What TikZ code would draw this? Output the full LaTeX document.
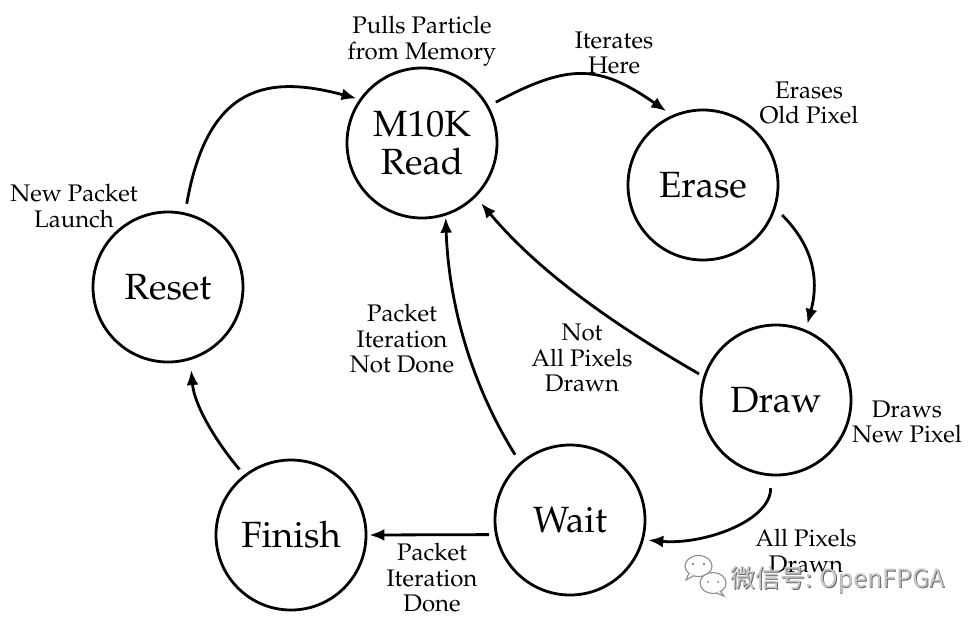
\documentclass[tikz,border=0pt]{standalone}
\usepackage[T1]{fontenc}
\usepackage{fontspec}
\newfontfamily\cjkfont{Noto Sans CJK SC}
\usetikzlibrary{arrows.meta}
\newcommand\palfont{\fontencoding{T1}\fontfamily{ppl}\selectfont}
\begin{document}
\begin{tikzpicture}[x=1pt,y=1pt,
  state/.style={circle,draw,line width=2.8pt,minimum size=150pt,inner sep=0pt,align=center,
    font=\palfont\fontsize{36.5}{38}\selectfont},
  lbl/.style={align=center,inner sep=0pt,font=\palfont\fontsize{24}{25.5}\selectfont},
  arr/.style={line width=2.8pt,-{Latex[length=15pt,width=12pt]}},
  bubble/.style={draw=black!45,line width=1.1pt,fill=white}]
\useasboundingbox (0,0) rectangle (969,-625);

% states
\node[state] (sm) at (422,-143) {M10K\\Read};
\node[state] (se) at (703,-185) {Erase};
\node[state] (sd) at (776,-400) {Draw};
\node[state] (sw) at (570,-520) {Wait};
\node[state] (sf) at (291,-535) {Finish};
\node[state] (sr) at (168,-287) {Reset};

% connectors
\draw[arr,shorten <=9pt,shorten >=3pt] (sr.77) .. controls +(80:130) and +(165:95) .. (sm.145);
\draw[arr,shorten <=8pt,shorten >=7pt] (sm.29) .. controls +(28:90) and +(145:90) .. (se.114);
\draw[arr,shorten <=9pt,shorten >=6pt] (se.-18) .. controls +(-45:50) and +(75:55) .. (sd.67);
\draw[arr,shorten <=5pt,shorten >=8pt] (sd.162) .. controls +(150:100) and +(-50:100) .. (sm.-45);
\draw[arr,shorten <=9pt,shorten >=2pt] (sw.131) .. controls +(122:90) and +(-88:90) .. (sm.-72);
\draw[arr,shorten <=12pt,shorten >=4.5pt] (sd.-94) .. controls +(-90:45) and +(-5:60) .. (sw.-15);
\draw[arr,shorten <=6pt,shorten >=2pt] (sw.191.5) -- (sf.east);
\draw[arr,shorten <=7pt,shorten >=10pt] (sf.128) .. controls +(130:45) and +(-85:45) .. (sr.-73);

% labels
\node[lbl] (l1) at (422,-41) {Pulls Particle\\from Memory};
\node[lbl] (l2) at (614,-53) {Iterates\\Here};
\node[lbl] (l3) at (809,-103) {Erases\\Old Pixel};
\node[lbl] (l4) at (74,-206) {New Packet\\Launch};
\node[lbl] (l5) at (907,-422) {Draws\\New Pixel};
\node[lbl] (l6) at (582,-358) {Not\\All Pixels\\Drawn};
\node[lbl] (l7) at (806,-551) {All Pixels\\Drawn};
\node[lbl] (l8) at (402,-339) {Packet\\Iteration\\Not Done};
\node[lbl] (l9) at (432,-578) {Packet\\Iteration\\Done};

% watermark
\draw[bubble] (698.5,-566) ellipse [x radius=13.5pt,y radius=10.5pt];
\draw[bubble] (689,-573) -- (686,-580) -- (694,-575.5);
\fill[black!45] (693,-564) circle (1.3pt) (704,-564) circle (1.3pt);
\draw[bubble] (713,-583) ellipse [x radius=13pt,y radius=10.5pt];
\draw[bubble] (720,-591) -- (724,-596) -- (716,-593);
\fill[black!45] (708,-582) circle (1.2pt) (718,-582) circle (1.2pt);
\node[anchor=west,inner sep=0pt,text=black!60,font=\cjkfont\fontsize{25}{25}\selectfont] (wms) at (730.8,-580.8) {微信号: OpenFPGA};
\node[anchor=west,inner sep=0pt,text=black!22,font=\cjkfont\fontsize{25}{25}\selectfont] (wm) at (730,-580) {微信号: OpenFPGA};
\end{tikzpicture}
\end{document}
